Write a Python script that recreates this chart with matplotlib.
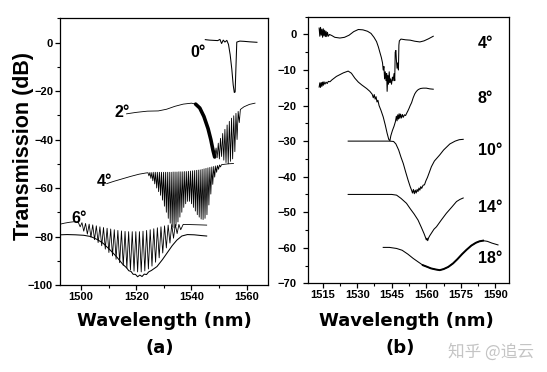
import numpy as np
import matplotlib
matplotlib.use("Agg")
import matplotlib.pyplot as plt
from matplotlib.ticker import MultipleLocator

# ---------------- Panel (a) data ----------------
a0_wl = [1545.0, 1546.5, 1548.0, 1549.5, 1550.3, 1550.9, 1551.5, 1552.1, 1552.8, 1553.4,
         1554.0, 1554.6, 1555.1, 1555.5, 1555.8, 1556.1, 1556.4, 1557.5, 1559.0, 1561.0, 1563.7]
a0_db = [1.2, 1.0, 0.9, 0.8, 1.3, -0.4, 1.0, 0.2, 0.9, -0.8,
         -5.0, -11.0, -17.5, -20.6, -20.4, -10.0, 0.2, 0.6, 0.5, 0.3, 0.1]

a2_wl = [1516.5, 1520.0, 1524.0, 1528.0, 1531.0, 1534.0, 1537.0, 1540.0, 1541.5,
         1543.0, 1544.5, 1546.0, 1547.0, 1547.8, 1548.4,
         1548.9, 1549.3, 1549.7, 1550.1, 1550.5, 1550.9, 1551.3, 1551.7, 1552.1, 1552.5,
         1552.9, 1553.3, 1553.7, 1554.1, 1554.5, 1554.9, 1555.3, 1555.7, 1556.1, 1556.5,
         1556.9, 1557.3, 1557.7, 1559.0, 1561.0, 1563.0]
a2_db = [-29.4, -28.8, -28.3, -28.2, -27.5, -26.3, -25.4, -25.0, -25.4,
         -27.0, -30.5, -35.5, -40.0, -44.5, -47.2,
         -43.5, -47.5, -41.5, -48.0, -39.5, -47.0, -37.5, -48.5, -35.8, -49.5,
         -34.0, -50.0, -32.5, -49.0, -31.2, -48.0, -30.2, -45.0, -29.2, -40.0,
         -28.4, -33.0, -27.6, -26.5, -25.5, -25.0]

a4_base_wl = [1509.3, 1512.0, 1515.0, 1518.0, 1521.0, 1523.5, 1552.0, 1553.5, 1555.2]
a4_base_db = [-58.2, -57.2, -56.2, -55.2, -54.3, -53.8, -50.2, -50.0, -49.9]
a4_peak_wl = [1524.25, 1524.95, 1525.65, 1526.35, 1527.05, 1527.75, 1528.45, 1529.15, 1529.85,
              1530.55, 1531.25, 1531.95, 1532.65, 1533.35, 1534.05, 1534.75, 1535.45, 1536.15,
              1536.85, 1537.55, 1538.25, 1538.95, 1539.65, 1540.35, 1541.05, 1541.75, 1542.45,
              1543.15, 1543.85, 1544.55, 1545.25, 1545.95, 1546.65, 1547.35, 1548.05, 1548.75,
              1549.45, 1550.15, 1550.85]
a4_peak_db = [-53.7, -53.6, -53.6, -53.5, -53.5, -53.5, -53.5, -53.5, -53.5, -53.5, -53.5,
              -53.5, -53.5, -53.4, -53.4, -53.4, -53.3, -53.3, -53.3, -53.2, -53.2, -53.1,
              -53.0, -52.9, -52.8, -52.7, -52.6, -52.5, -52.3, -52.1, -51.9, -51.7, -51.5,
              -51.3, -51.1, -50.9, -50.7, -50.5, -50.4]
a4_dip_wl = [1524.6, 1525.3, 1526.0, 1526.7, 1527.4, 1528.1, 1528.8, 1529.5, 1530.2, 1530.9,
             1531.6, 1532.3, 1533.0, 1533.7, 1534.4, 1535.1, 1535.8, 1536.5, 1537.2, 1537.9,
             1538.6, 1539.3, 1540.0, 1540.7, 1541.4, 1542.1, 1542.8, 1543.5, 1544.2, 1544.9,
             1545.6, 1546.3, 1547.0, 1547.7, 1548.4, 1549.1, 1549.8, 1550.5]
a4_dip_db = [-55.0, -56.0, -57.0, -58.3, -60.0, -61.5, -63.0, -65.0, -67.5, -70.0,
             -72.5, -74.5, -76.0, -76.5, -75.5, -74.0, -72.0, -70.0, -68.0, -66.5,
             -65.5, -65.5, -66.5, -68.0, -69.5, -71.0, -72.0, -72.8, -73.0, -72.5,
             -71.0, -67.0, -62.5, -58.5, -55.5, -53.5, -52.3, -51.3]

a6_base_wl = [1492.5, 1494.0, 1496.0, 1497.5, 1499.0, 1537.0, 1540.0, 1543.0, 1545.5]
a6_base_db = [-74.9, -74.5, -74.1, -73.9, -74.1, -75.0, -75.1, -75.2, -75.3]
a6_peak_wl = [1500.35, 1501.65, 1502.95, 1504.25, 1505.55, 1506.85, 1508.15, 1509.45, 1510.75,
              1512.05, 1513.35, 1514.65, 1515.95, 1517.25, 1518.55, 1519.85, 1521.15, 1522.45,
              1523.75, 1525.05, 1526.35, 1527.65, 1528.95, 1530.25, 1531.55, 1532.85, 1534.15,
              1535.45]
a6_peak_db = [-74.3, -74.6, -74.9, -75.2, -75.6, -76.0, -76.3, -76.6, -76.9, -77.2, -77.5,
              -77.7, -77.9, -78.0, -78.0, -78.0, -78.0, -77.8, -77.5, -77.2, -76.8, -76.4,
              -76.0, -75.6, -75.3, -75.1, -75.0, -75.0]
a6_dip_wl = [1499.7, 1501.0, 1502.3, 1503.6, 1504.9, 1506.2, 1507.5, 1508.8, 1510.1, 1511.4,
             1512.7, 1514.0, 1515.3, 1516.6, 1517.9, 1519.2, 1520.5, 1521.8, 1523.1, 1524.4,
             1525.7, 1527.0, 1528.3, 1529.6, 1530.9, 1532.2, 1533.5, 1534.8, 1536.1]
a6_dip_db = [-76.0, -77.8, -79.0, -80.3, -81.3, -82.5, -83.8, -85.2, -86.6, -88.0,
             -89.4, -90.8, -92.0, -93.0, -93.8, -94.3, -94.6, -94.6, -94.2, -93.4,
             -92.2, -90.6, -88.8, -86.8, -84.7, -82.7, -80.7, -78.8, -77.2]
a6_low_wl = [1492.5, 1495.0, 1498.0, 1501.0, 1503.5, 1506.0, 1508.0, 1510.5, 1513.0, 1515.0,
             1516.5, 1517.3, 1518.1, 1518.9, 1519.7, 1520.5, 1521.3, 1522.1, 1522.9, 1523.7,
             1524.5, 1525.5, 1527.5, 1529.5, 1531.1, 1533.0, 1534.7, 1536.5, 1538.5, 1541.0,
             1543.5, 1545.5]
a6_low_db = [-79.3, -79.2, -79.3, -79.5, -80.0, -81.3, -82.8, -85.5, -88.5, -91.3,
             -92.9, -94.1, -94.4, -95.6, -95.6, -96.6, -95.9, -96.5, -95.5, -95.7,
             -94.6, -94.0, -92.4, -89.5, -86.9, -83.8, -81.5, -79.8, -79.2, -79.3,
             -79.6, -79.8]

# ---------------- Panel (b) data ----------------
b4_wl = [1513.5, 1513.8, 1514.1, 1514.4, 1514.7, 1515.0, 1515.3, 1515.6, 1515.9, 1516.2,
         1516.5, 1516.8, 1517.1, 1517.5, 1518.0, 1519.0, 1520.3, 1522.5, 1524.5, 1526.5,
         1528.5, 1530.5, 1532.5, 1534.5, 1536.0, 1537.3, 1538.4, 1539.2, 1539.8, 1540.5,
         1541.0, 1541.3, 1541.6, 1541.9, 1542.2, 1542.5, 1542.8, 1543.0, 1543.3, 1543.6,
         1543.9, 1544.2, 1544.5, 1544.9, 1545.3, 1545.6, 1546.0, 1546.3, 1546.5, 1546.8,
         1547.0, 1547.3, 1547.6, 1547.9, 1548.1, 1548.3, 1549.0, 1551.0, 1553.0, 1555.0,
         1557.2, 1559.0, 1561.0, 1563.0]
b4_db = [1.8, -0.5, 2.0, -0.2, 1.5, -0.8, 1.6, -0.4, 1.2, -0.6,
         0.9, -0.6, 0.6, -0.5, 0.0, -0.3, -0.8, -1.0, -0.8, -0.2,
         0.8, 1.4, 1.3, 0.9, 0.3, -0.8, -2.0, -3.5, -4.9, -6.5,
         -8.0, -10.0, -9.0, -12.5, -10.5, -13.0, -11.0, -16.0, -11.5, -14.0,
         -10.5, -13.5, -12.5, -14.0, -12.0, -13.0, -11.0, -13.0, -5.0, -4.5,
         -7.0, -9.5, -8.0, -10.0, -3.0, -1.8, -1.3, -1.5, -1.6, -1.9,
         -2.1, -1.8, -1.2, -0.5]

b8_wl = [1513.5, 1513.8, 1514.1, 1514.4, 1514.7, 1515.0, 1515.3, 1515.6, 1516.0, 1516.5,
         1517.0, 1517.5, 1518.2, 1519.0, 1520.0, 1521.0, 1522.5, 1524.0, 1526.1, 1527.5,
         1529.0, 1530.5, 1532.0, 1534.1, 1535.5, 1536.5, 1537.0, 1537.4, 1537.8, 1538.2,
         1538.6, 1539.0, 1539.5, 1540.3, 1541.3, 1542.2, 1543.0, 1543.7, 1544.2, 1544.6,
         1545.3, 1546.0, 1546.6, 1547.0, 1547.3, 1547.6, 1547.9, 1548.2, 1548.5, 1548.8,
         1549.2, 1549.6, 1550.0, 1550.5, 1551.0, 1551.6, 1552.0, 1552.5, 1553.0, 1553.6,
         1554.3, 1555.0, 1555.7, 1556.5, 1557.5, 1558.6, 1560.0, 1561.5, 1563.0]
b8_db = [-14.8, -13.6, -14.9, -13.5, -14.6, -13.4, -14.3, -13.3, -14.0, -13.4,
         -13.8, -13.2, -13.3, -12.8, -12.3, -11.8, -11.3, -10.8, -10.3, -10.9,
         -12.3, -13.4, -14.2, -15.2, -16.0, -16.8, -17.8, -16.9, -18.2, -17.5,
         -19.0, -18.5, -20.0, -21.3, -23.2, -25.5, -27.8, -29.5, -29.9, -28.5,
         -27.0, -25.8, -24.5, -23.0, -24.3, -22.6, -23.8, -22.3, -23.6, -22.4,
         -23.5, -22.5, -23.3, -22.6, -22.8, -22.0, -21.5, -20.8, -20.0, -19.2,
         -17.8, -16.7, -16.0, -15.5, -15.2, -15.1, -15.1, -15.3, -15.4]

b10_wl = [1526.1, 1530.0, 1535.0, 1540.0, 1544.0, 1545.8, 1546.8, 1548.0, 1549.0, 1550.0,
          1551.0, 1552.1, 1553.0, 1553.6, 1554.0, 1554.4, 1554.8, 1555.2, 1555.6, 1556.0,
          1556.4, 1556.8, 1557.2, 1557.6, 1558.0, 1558.6, 1559.2, 1559.8, 1560.5, 1561.3,
          1562.2, 1563.5, 1565.8, 1567.5, 1570.2, 1572.5, 1574.3, 1576.0]
b10_db = [-30.0, -30.0, -30.0, -30.0, -30.0, -30.1, -30.8, -32.5, -34.5, -36.3,
          -38.6, -41.0, -42.8, -43.8, -44.6, -43.6, -44.8, -43.8, -44.6, -43.6,
          -44.2, -43.2, -43.8, -42.8, -43.3, -42.4, -42.3, -41.2, -40.2, -38.8,
          -37.2, -35.6, -33.9, -32.5, -30.8, -30.0, -29.6, -29.5]

b14_wl = [1526.1, 1530.0, 1535.0, 1540.0, 1545.0, 1547.1, 1549.0, 1551.4, 1553.0, 1554.7,
          1556.4, 1557.8, 1559.0, 1559.7, 1560.0, 1560.3, 1560.6, 1561.0, 1561.5, 1562.3,
          1563.3, 1564.4, 1566.5, 1568.7, 1571.0, 1573.1, 1574.6, 1576.0]
b14_db = [-45.0, -45.0, -45.0, -45.0, -45.0, -45.2, -46.1, -47.5, -49.0, -50.5,
          -52.2, -54.2, -56.0, -57.2, -57.8, -57.3, -58.0, -57.2, -56.6, -55.8,
          -54.8, -54.1, -52.2, -50.3, -48.6, -47.0, -46.4, -46.0]

b18_wl = [1541.3, 1544.0, 1547.1, 1549.5, 1552.0, 1554.3, 1556.5, 1558.5, 1560.1, 1562.0,
          1564.0, 1565.8, 1567.5, 1569.5, 1571.6, 1573.5, 1575.5, 1577.4, 1579.5, 1581.5,
          1583.0, 1584.6, 1586.5, 1588.5, 1591.1]
b18_db = [-59.9, -59.9, -60.2, -60.7, -61.8, -63.0, -64.0, -64.9, -65.3, -65.8,
          -66.1, -66.3, -66.0, -65.4, -64.4, -63.2, -61.8, -60.6, -59.4, -58.6,
          -58.2, -58.0, -58.2, -58.7, -59.2]

labels_a = ["0°", "2°", "4°", "6°"]
labels_b = ["4°", "8°", "10°", "14°", "18°"]


def merge(*pairs):
    w = np.concatenate([np.asarray(p[0], float) for p in pairs])
    d = np.concatenate([np.asarray(p[1], float) for p in pairs])
    o = np.argsort(w, kind="stable")
    return w[o], d[o]


W = 547 / 100
H = 372 / 100
fig = plt.figure(figsize=(W, H), dpi=100)
fig.patch.set_facecolor("white")

tickfont = dict(family="Liberation Sans", weight="bold", size=8)
lw = 0.75
col = "black"


def px_axes(l, t, r, b):
    return fig.add_axes([l / 547, 1 - b / 372, (r - l) / 547, (b - t) / 372])


def style(ax):
    for s in ax.spines.values():
        s.set_linewidth(0.9)
    ax.tick_params(direction="out", which="major", length=3.5, width=0.9, pad=1.5)
    ax.tick_params(direction="out", which="minor", length=2.2, width=0.8)
    for lab in ax.get_xticklabels() + ax.get_yticklabels():
        lab.set_fontproperties(matplotlib.font_manager.FontProperties(**tickfont))


# ---------- Panel (a) ----------
axa = px_axes(60, 18.3, 268, 285)
axa.set_xlim(1492.4, 1567.7)
axa.set_ylim(-100, 10)
axa.xaxis.set_major_locator(MultipleLocator(20))
axa.xaxis.set_minor_locator(MultipleLocator(10))
axa.yaxis.set_major_locator(MultipleLocator(20))
axa.yaxis.set_minor_locator(MultipleLocator(10))

axa.plot(a0_wl, a0_db, color=col, lw=lw)
axa.plot(a2_wl, a2_db, color=col, lw=0.6)
axa.plot(a2_wl[8:15], a2_db[8:15], color=col, lw=2.6, solid_capstyle="round")
w4, d4 = merge((a4_base_wl, a4_base_db), (a4_peak_wl, a4_peak_db), (a4_dip_wl, a4_dip_db))
axa.plot(w4, d4, color=col, lw=0.6)
w6, d6 = merge((a6_base_wl, a6_base_db), (a6_peak_wl, a6_peak_db), (a6_dip_wl, a6_dip_db))
axa.plot(w6, d6, color=col, lw=0.6)
axa.plot(a6_low_wl, a6_low_db, color=col, lw=lw)

lab_font = dict(family="Liberation Sans", weight="bold", size=11.5)
for txt, (x, y) in zip(labels_a, [(1539.5, -4.1), (1512.3, -28.7), (1505.7, -57.5), (1496.6, -72.4)]):
    axa.text(x, y, txt, ha="left", va="center", **lab_font)
style(axa)

# ---------- Panel (b) ----------
axb = px_axes(308.3, 16.7, 509.3, 283.3)
axb.set_xlim(1508.8, 1596.0)
axb.set_ylim(-70, 5)
axb.xaxis.set_major_locator(MultipleLocator(15))
axb.xaxis.set_minor_locator(MultipleLocator(7.5))
axb.yaxis.set_major_locator(MultipleLocator(10))
axb.yaxis.set_minor_locator(MultipleLocator(5))
for wl, db in [(b4_wl, b4_db), (b8_wl, b8_db), (b10_wl, b10_db), (b14_wl, b14_db), (b18_wl, b18_db)]:
    axb.plot(wl, db, color=col, lw=lw)
axb.plot(b18_wl[7:22], b18_db[7:22], color=col, lw=1.4)
for txt, y in zip(labels_b, [-2.4, -17.9, -32.5, -48.6, -62.9]):
    axb.text(1582.3, y, txt, ha="left", va="center", **lab_font)
style(axb)
axb.tick_params(axis="y", which="major", pad=5)

# ---------- Texts ----------
fig.text(24 / 547, 1 - 146 / 372, "Transmission (dB)", rotation=90, ha="center", va="center",
         family="Liberation Sans", weight="bold", size=15.5)
xl = dict(family="DejaVu Sans", weight="bold", size=13)
fig.text(164 / 547, 1 - 321 / 372, "Wavelength (nm)", ha="center", va="center", **xl)
fig.text(406 / 547, 1 - 321 / 372, "Wavelength (nm)", ha="center", va="center", **xl)
fig.text(160 / 547, 1 - 348 / 372, "(a)", ha="center", va="center", **xl)
fig.text(400 / 547, 1 - 348 / 372, "(b)", ha="center", va="center", **xl)
fig.text(491 / 547, 1 - 352 / 372, "知乎 @追云", ha="center", va="center", color="#c4c4c4",
         family=["Noto Sans CJK SC", "DejaVu Sans"], size=12)

fig.savefig("out.png", dpi=100, facecolor="white")
